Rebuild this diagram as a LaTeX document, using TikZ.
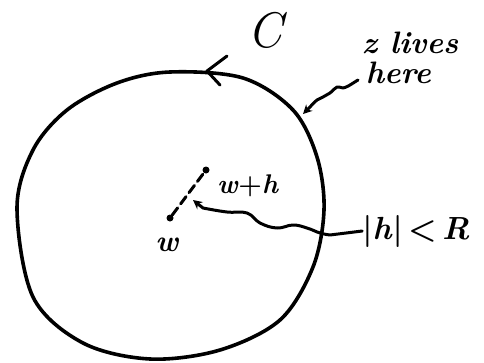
\documentclass[tikz,border=0pt]{standalone}
\usepackage{fontspec}
\setmainfont{Latin Modern Roman}
\usetikzlibrary{arrows.meta}
\begin{document}
\begin{tikzpicture}[x=1pt,y=-1pt,
  pen/.style={line width=3.6pt,line cap=round,line join=round},
  thin pen/.style={line width=3.0pt,line cap=round,line join=round},
  lbl/.style={inner sep=0pt,text=black},
  dotm/.style={circle,fill=black,inner sep=0pt,minimum size=7pt}]
\useasboundingbox (0,0) rectangle (484,362);
% contour C
\draw[pen] plot[smooth cycle,tension=0.55] coordinates {
 (17,208) (33,150) (67,110) (117,83)
 (170,72) (243,78) (293,110) (317,157)
 (324,210) (313,267) (280,320)
 (220,350) (150,359) (83,343) (33,297)};
% orientation arrow on C
\coordinate (ctip) at (207,71);
\draw[thin pen] (227,56) -- (ctip) -- (220,85);
% labels
\node[lbl,font=\fontsize{50}{50}\selectfont\itshape] (Cl) at (265,30) {C};
\node[lbl,align=left,font=\fontsize{31}{30}\selectfont\bfseries\itshape] (zl) at (410,58) {z lives\\\hspace*{4pt}here};
\node[lbl,font=\fontsize{30}{30}\selectfont\bfseries\itshape] (wl) at (167,245) {w};
\node[lbl,font=\fontsize{27}{27}\selectfont\bfseries] (whl) at (248,186) {\textit{w}+\textit{h}};
\node[lbl,font=\fontsize{32}{32}\selectfont\bfseries] (hl) at (416,231) {|\textit{h}|\,<\,\textit{R}};
% points
\node[dotm] (w) at (170,218) {};
\node[dotm] (wh) at (206,170) {};
\draw[thin pen,dash pattern=on 9pt off 5pt] (w) -- (wh);
\coordinate (whtip) at (193,200);
\coordinate (ztip) at (303,114);
% squiggle from |h|<R
\draw[thin pen,-{Stealth[length=9pt,width=9pt]}] (hl.west) -- plot[smooth,tension=0.7] coordinates {
 (330,235) (320,233) (307,228) (293,225) (277,228) (260,223) (247,213)
 (227,212) (203,208)} -- (whtip);
% squiggle from z lives here
\draw[thin pen,-{Stealth[length=9pt,width=9pt]}] (358,80) -- plot[smooth,tension=0.8] coordinates {
 (350,85) (343,88) (337,87) (330,93) (323,97) (317,100) (310,107)} -- (ztip);
\end{tikzpicture}
\end{document}
